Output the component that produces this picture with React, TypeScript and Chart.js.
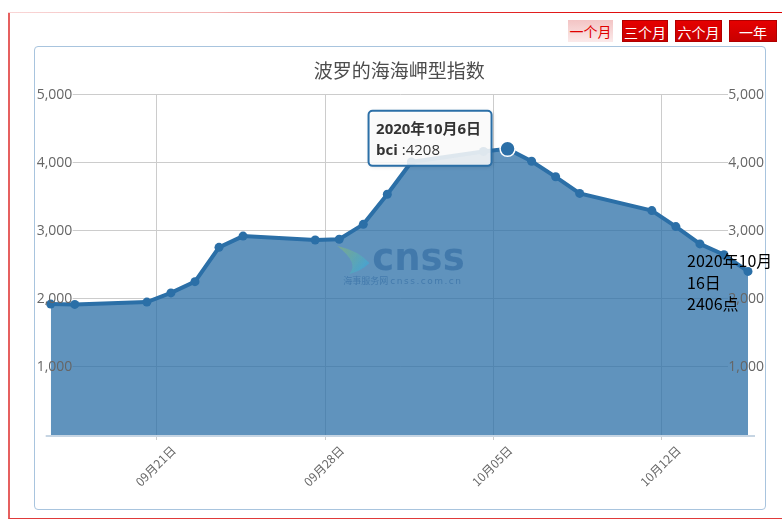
import React, { useEffect, useRef } from 'react';
import { Chart, registerables } from 'chart.js';

Chart.register(...registerables);

// ---------- data ----------
const chartTitle = '波罗的海海岬型指数';
const seriesName = 'bci';
const dates = [
  '2020-09-17', '2020-09-18', '2020-09-21', '2020-09-22', '2020-09-23', '2020-09-24', '2020-09-25',
  '2020-09-28', '2020-09-29', '2020-09-30', '2020-10-01', '2020-10-02', '2020-10-05', '2020-10-06',
  '2020-10-07', '2020-10-08', '2020-10-09', '2020-10-12', '2020-10-13', '2020-10-14', '2020-10-15',
  '2020-10-16',
];
const values = [
  1925, 1920, 1955, 2090, 2255, 2760, 2925,
  2868, 2878, 3098, 3540, 4015, 4170, 4208,
  4025, 3797, 3553, 3300, 3065, 2810, 2650,
  2406,
];
const tickDates = ['2020-09-21', '2020-09-28', '2020-10-05', '2020-10-12'];
const tickLabels = ['09月21日', '09月28日', '10月05日', '10月12日'];
const yTickValues = [1000, 2000, 3000, 4000, 5000];
const yMax = 5000;
const rangeButtons = ['一个月', '三个月', '六个月', '一年'];
const selectedRange = 0;
const highlightIndex = 13;

// ---------- helpers / styles ----------
const DAY = 86400000;
const dayOf = (d: string) => (Date.parse(d) - Date.parse(dates[0])) / DAY;
const tickShift = 0.4;
const cnDate = (d: string) => {
  const [y, m, dd] = d.split('-');
  return { y, m: String(+m), d: String(+dd) };
};

const LINE = '#2b6fa7';
const AREA = 'rgba(43,111,167,0.75)';
const MIX = '"Open Sans", "Noto Sans CJK SC", sans-serif';
const CJK = '"Noto Sans CJK SC", sans-serif';
const LABEL = '#666666';

const decorPlugin = {
  id: 'decor',
  beforeDatasetsDraw(chart: any) {
    const { ctx, chartArea: a, scales } = chart;
    const x = scales.x;
    const y = scales.y;
    ctx.save();
    ctx.strokeStyle = '#cccccc';
    ctx.lineWidth = 1;
    ctx.beginPath();
    yTickValues.forEach((v) => {
      const py = Math.round(y.getPixelForValue(v)) - 0.5;
      ctx.moveTo(a.left + 22, py);
      ctx.lineTo(a.right - 20, py);
    });
    tickDates.forEach((d) => {
      const px = Math.round(x.getPixelForValue(dayOf(d) + tickShift)) + 0.5;
      ctx.moveTo(px, a.top);
      ctx.lineTo(px, a.bottom + 5);
    });
    ctx.stroke();
    ctx.restore();
  },
  afterDatasetsDraw(chart: any) {
    const { ctx, chartArea: a, scales } = chart;
    const y = scales.y;
    ctx.save();
    // watermark
    const cx = (a.left + a.right) / 2;
    const cy = (a.top + a.bottom) / 2;
    const g = ctx.createLinearGradient(cx - 62, cy - 18, cx - 31, cy + 6);
    g.addColorStop(0, 'rgba(140,185,110,0.55)');
    g.addColorStop(1, 'rgba(50,170,230,0.65)');
    ctx.fillStyle = g;
    ctx.beginPath();
    ctx.moveTo(cx - 62, cy - 19);
    ctx.quadraticCurveTo(cx - 40, cy - 14, cx - 30, cy - 2);
    ctx.quadraticCurveTo(cx - 38, cy + 6, cx - 50, cy + 9);
    ctx.quadraticCurveTo(cx - 40, cy - 2, cx - 62, cy - 19);
    ctx.fill();
    ctx.fillStyle = 'rgba(30,90,150,0.45)';
    ctx.font = 'bold 37px "DejaVu Sans", sans-serif';
    ctx.textBaseline = 'alphabetic';
    ctx.textAlign = 'left';
    ctx.fillText('cnss', cx - 27, cy + 4.5);
    ctx.font = '9px ' + CJK;
    ctx.fillText('海事服务网', cx - 56, cy + 19);
    (ctx as any).letterSpacing = '1.5px';
    ctx.font = '9px "DejaVu Sans", sans-serif';
    ctx.fillText('cnss.com.cn', cx - 9, cy + 19);
    (ctx as any).letterSpacing = '0px';

    // bottom axis line
    ctx.strokeStyle = '#c6d5e3';
    ctx.lineWidth = 2;
    ctx.beginPath();
    ctx.moveTo(a.left - 5, a.bottom + 1);
    ctx.lineTo(a.right + 7, a.bottom + 1);
    ctx.stroke();

    // y labels, both sides
    ctx.font = '14px ' + MIX;
    ctx.fillStyle = LABEL;
    ctx.textBaseline = 'middle';
    yTickValues.forEach((v) => {
      const py = y.getPixelForValue(v);
      const t = v.toLocaleString('en-US');
      ctx.textAlign = 'left';
      ctx.fillText(t, a.left - 14, py);
      ctx.textAlign = 'right';
      ctx.fillText(t, a.right + 16, py);
    });
    ctx.restore();
  },
  afterDraw(chart: any) {
    const { ctx } = chart;
    const meta = chart.getDatasetMeta(0);
    ctx.save();

    // annotation for last point
    const lastIdx = values.length - 1;
    const lp = meta.data[lastIdx];
    const ld = cnDate(dates[lastIdx]);
    ctx.font = '16px ' + CJK;
    ctx.fillStyle = '#000';
    ctx.textAlign = 'left';
    ctx.textBaseline = 'alphabetic';
    ctx.fillText(`${ld.y}年${ld.m}月`, lp.x - 61, lp.y - 4);
    ctx.fillText(`${ld.d}日`, lp.x - 61, lp.y + 17.5);
    ctx.fillText(`${values[lastIdx]}点`, lp.x - 61, lp.y + 39);

    // tooltip
    const p = meta.data[highlightIndex];
    const hd = cnDate(dates[highlightIndex]);
    const bw = 123;
    const bh = 55;
    const bx = p.x - 16 - bw;
    const by = p.y - 38;
    ctx.shadowColor = 'rgba(0,0,0,0.18)';
    ctx.shadowBlur = 4;
    ctx.shadowOffsetX = 1;
    ctx.shadowOffsetY = 1;
    ctx.beginPath();
    (ctx as any).roundRect(bx, by, bw, bh, 4);
    ctx.fillStyle = 'rgba(255,255,255,0.85)';
    ctx.fill();
    ctx.shadowColor = 'transparent';
    ctx.lineWidth = 2;
    ctx.strokeStyle = LINE;
    ctx.stroke();
    ctx.fillStyle = '#333';
    ctx.font = 'bold 15px ' + MIX;
    ctx.fillText(`${hd.y}年${hd.m}月${hd.d}日`, bx + 7.5, by + 23);
    ctx.font = 'bold 15px ' + MIX;
    ctx.fillText(seriesName, bx + 7.5, by + 44);
    const w = ctx.measureText(seriesName).width;
    ctx.font = '15px ' + MIX;
    ctx.fillText(` :${values[highlightIndex]}`, bx + 7.5 + w, by + 44);
    ctx.restore();
  },
};

export default function App() {
  const ref = useRef<HTMLCanvasElement | null>(null);

  useEffect(() => {
    if (!ref.current) return;
    const chart = new Chart(ref.current, {
      type: 'line',
      data: {
        datasets: [
          {
            label: seriesName,
            data: dates.map((d, i) => ({ x: dayOf(d), y: values[i] })),
            borderColor: LINE,
            backgroundColor: AREA,
            borderWidth: 4,
            fill: 'origin',
            tension: 0,
            clip: 12,
            pointRadius: (c: any) => (c.dataIndex === highlightIndex ? 7.5 : 4.5),
            pointBackgroundColor: LINE,
            pointBorderColor: (c: any) => (c.dataIndex === highlightIndex ? '#ffffff' : LINE),
            pointBorderWidth: (c: any) => (c.dataIndex === highlightIndex ? 1.5 : 0),
          } as any,
        ],
      },
      options: {
        responsive: false,
        animation: false,
        events: [],
        devicePixelRatio: 1,
        layout: { padding: { left: 50.7, right: 34, top: 47, bottom: 16 } },
        plugins: {
          legend: { display: false },
          tooltip: { enabled: false },
          title: {
            display: true,
            text: chartTitle,
            color: '#4d4d4d',
            font: { family: CJK, size: 19, weight: 'normal' },
            padding: { top: 12.6, bottom: 12.6 },
          },
        },
        scales: {
          x: {
            type: 'linear',
            min: 0,
            max: dayOf(dates[dates.length - 1]),
            grid: { display: false },
            border: { display: false },
            afterBuildTicks: (scale: any) => {
              scale.ticks = tickDates.map((d) => ({ value: dayOf(d) + tickShift }));
            },
            afterFit: (scale: any) => {
              scale.height = 74;
            },
            ticks: {
              autoSkip: false,
              minRotation: 45,
              maxRotation: 45,
              padding: 0,
              labelOffset: 17,
              color: LABEL,
              font: { family: CJK, size: 12 },
              callback: (_v: any, i: number) => tickLabels[i],
            },
          },
          y: {
            display: false,
            min: 0,
            max: yMax,
          },
        },
      } as any,
      plugins: [decorPlugin as any],
    });
    return () => chart.destroy();
  }, []);

  const btnBase: React.CSSProperties = {
    position: 'absolute',
    top: 20,
    height: 22,
    lineHeight: '22px',
    textAlign: 'center',
    fontFamily: CJK,
    fontSize: 14,
    boxSizing: 'border-box',
  };
  const btnLefts = [568, 622, 675, 729];
  const btnWidths = [45, 46, 47, 48];

  return (
    <div
      style={{
        position: 'fixed',
        left: 0,
        top: 0,
        width: 782,
        height: 525,
        background: '#fff',
        overflow: 'hidden',
      }}
    >
      {/* red frame */}
      <div
        style={{
          position: 'absolute',
          left: 8,
          top: 12,
          width: 800,
          height: 506,
          borderLeft: '2px solid #e6605f',
          borderBottom: '1px solid #e03a3a',
        }}
      />
      <div
        style={{
          position: 'absolute',
          left: 8,
          top: 12,
          width: 774,
          height: 1,
          background: 'linear-gradient(to right, #f9d6d6 0%, #f3b5b5 26%, #e65050 45%, #e01010 75%, #dd0000 100%)',
        }}
      />
      {/* range buttons */}
      {rangeButtons.map((b, i) => (
        <div
          key={b}
          style={{
            ...btnBase,
            left: btnLefts[i],
            width: btnWidths[i],
            color: i === selectedRange ? '#e00000' : '#ffffff',
            background:
              i === selectedRange
                ? 'linear-gradient(#f3c4c4, #fbeaea)'
                : 'linear-gradient(#e60000, #c80000)',
            border: i === selectedRange ? 'none' : '1px solid #b00000',
          }}
        >
          {b}
        </div>
      ))}
      {/* chart container border */}
      <div
        style={{
          position: 'absolute',
          left: 34,
          top: 46,
          width: 730,
          height: 462,
          border: '1px solid #a8c4de',
          borderRadius: 4,
        }}
      />
      <canvas
        ref={ref}
        width={782}
        height={525}
        style={{ position: 'absolute', left: 0, top: 0, width: 782, height: 525, pointerEvents: 'none' }}
      />
    </div>
  );
}
